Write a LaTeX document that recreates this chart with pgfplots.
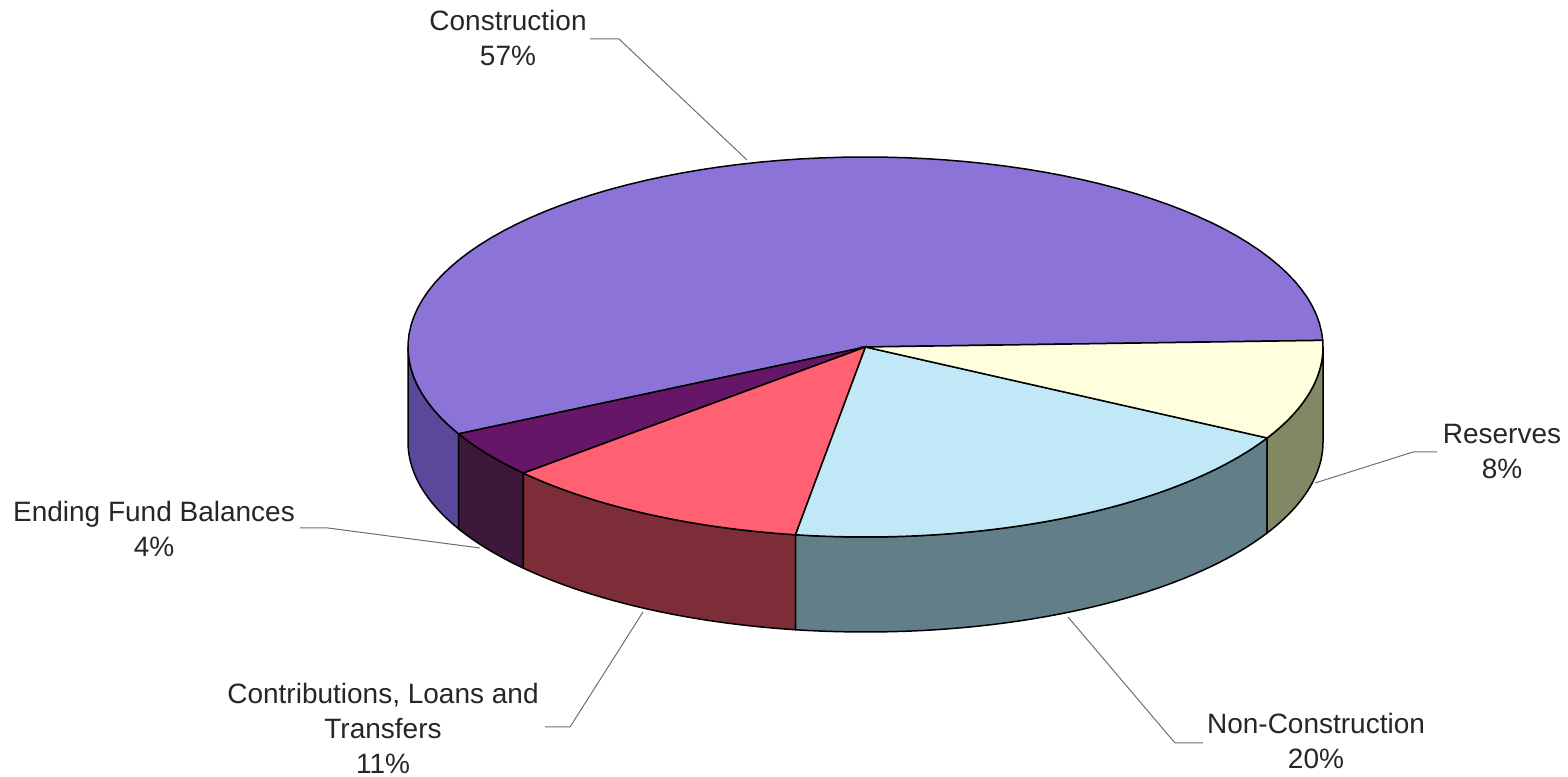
\documentclass[border=0pt]{standalone}
\usepackage{pgfplots}
\pgfplotsset{compat=1.18}
\usepackage{fontspec}
\setmainfont{Liberation Sans}
\definecolor{conT}{RGB}{140,115,215}
\definecolor{conS}{RGB}{92,72,155}
\definecolor{endT}{RGB}{102,22,102}
\definecolor{endS}{RGB}{62,24,58}
\definecolor{ctrT}{RGB}{255,96,114}
\definecolor{ctrS}{RGB}{125,45,55}
\definecolor{nonT}{RGB}{192,232,246}
\definecolor{nonS}{RGB}{98,126,136}
\definecolor{resT}{RGB}{255,255,222}
\definecolor{resS}{RGB}{130,135,100}
\definecolor{lead}{RGB}{110,110,110}
\tikzset{lbl/.style={font=\fontsize{14}{17.5}\selectfont, align=center, inner sep=0pt, text=black!85}}
% slice shares (percent of the full circle), starting at 2 degrees
\def\startang{2}
\pgfmathsetmacro\aA{\startang}
\pgfmathsetmacro\aB{\aA+57*3.6}
\pgfmathsetmacro\aC{\aB+4*3.6}
\pgfmathsetmacro\aD{\aC+11*3.6}
\pgfmathsetmacro\aE{\aD+19.5*3.6}
\pgfmathsetmacro\aF{\aE+8.5*3.6}
% side face between angles #1 and #2 (front half only)
\newcommand{\sideface}[3]{%
\addplot[fill=#3, draw=black, line width=0.75pt, samples at={0,1,...,40,40.001,41,42,...,80}]
 ({865.5+457.5*cos(x<=40 ? #1+(#2-#1)*x/40 : #2-(#2-#1)*(x-40)/40)},
  {(x<=40 ? 429 : 334)+190*sin(x<=40 ? #1+(#2-#1)*x/40 : #2-(#2-#1)*(x-40)/40)}) -- cycle;
}
\newcommand{\topface}[3]{%
\addplot[fill=#3, draw=black, line width=0.75pt, domain=#1:#2, samples=80]
 ({865.5+457.5*cos(x)},{429+190*sin(x)}) -- (865.5,429) -- cycle;
}
\begin{document}
\begin{tikzpicture}
\begin{axis}[
  width=784pt, height=388pt, scale only axis,
  xmin=0, xmax=1568, ymin=0, ymax=776,
  hide axis, clip=false,
]
\addplot[draw=none] coordinates {(0,0) (1568,776)};
% side faces
\sideface{180}{\aB}{conS}
\sideface{\aB}{\aC}{endS}
\sideface{\aC}{\aD}{ctrS}
\sideface{\aD}{\aE}{nonS}
\sideface{\aE}{360}{resS}
% top faces
\topface{\aA}{\aB}{conT}
\topface{\aB}{\aC}{endT}
\topface{\aC}{\aD}{ctrT}
\topface{\aD}{\aE}{nonT}
\topface{\aE}{\aF}{resT}
% leader lines
\addplot[lead, line width=0.5pt] coordinates {(590,737) (619,737) (747,616)};
\addplot[lead, line width=0.5pt] coordinates {(1315,293) (1413,324) (1437,324)};
\addplot[lead, line width=0.5pt] coordinates {(300,248) (328,248) (480,228)};
\addplot[lead, line width=0.5pt] coordinates {(545,49) (570,49) (643,164)};
\addplot[lead, line width=0.5pt] coordinates {(1068,159) (1175,33) (1203,33)};
% labels
\node[lbl] at (axis cs:508,737.5) {Construction\\57\%};
\node[lbl] at (axis cs:1502,324) {Reserves\\8\%};
\node[lbl] at (axis cs:154,247.5) {Ending Fund Balances\\4\%};
\node[lbl] at (axis cs:383,48) {Contributions, Loans and\\Transfers\\11\%};
\node[lbl] at (axis cs:1316,35) {Non-Construction\\20\%};
\end{axis}
\end{tikzpicture}
\end{document}
